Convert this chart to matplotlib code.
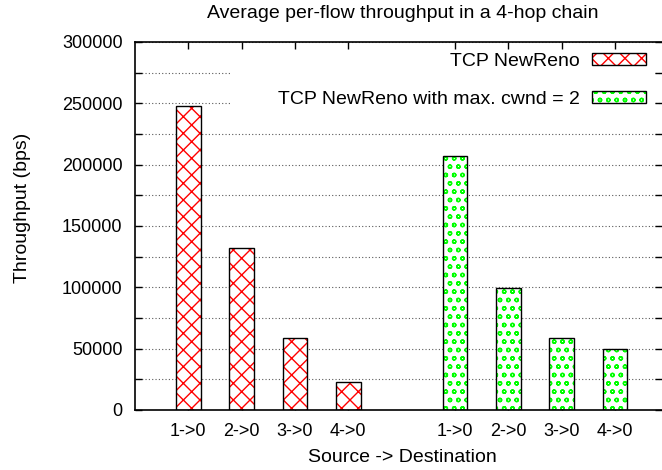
import matplotlib
matplotlib.use("Agg")
import matplotlib.pyplot as plt
from matplotlib.patches import Patch, Rectangle
from matplotlib.legend_handler import HandlerTuple
from matplotlib.ticker import MultipleLocator

plt.rcParams['font.family'] = ['Liberation Sans', 'DejaVu Sans']
plt.rcParams['hatch.linewidth'] = 1.0

title = "Average per-flow throughput in a 4-hop chain"
categories = ["1->0", "2->0", "3->0", "4->0"]
series_names = ["TCP NewReno", "TCP NewReno with max. cwnd = 2"]
newreno = [248000, 132000, 59000, 23000]
newreno_cwnd2 = [207000, 99500, 59000, 50000]
xlabel = "Source -> Destination"
ylabel = "Throughput (bps)"

fig = plt.figure(figsize=(6.62, 4.70), dpi=100)
ax = fig.add_axes([135/662, 60/470, 527/662, 368/470])

pos1 = [0, 1, 2, 3]
pos2 = [5, 6, 7, 8]
width = 0.46
fs = 13
fs2 = 14
red = '#ff0000'
green = '#00ff00'

ax.bar(pos1, newreno, width, facecolor='white', edgecolor=red, hatch='xx', linewidth=0, zorder=2)
ax.bar(pos1, newreno, width, fill=False, edgecolor='black', linewidth=1.0, zorder=3)
ax.bar(pos2, newreno_cwnd2, width, facecolor='white', edgecolor=green, hatch='oo', linewidth=0, zorder=2)
ax.bar(pos2, newreno_cwnd2, width, fill=False, edgecolor='black', linewidth=1.0, zorder=3)

ax.set_xlim(-1, 8 + 47/53.3)
ax.set_ylim(0, 300000)
ax.set_xticks(pos1 + pos2)
ax.set_xticklabels(categories + categories, fontsize=fs)
ax.yaxis.set_major_locator(MultipleLocator(50000))
ax.yaxis.set_minor_locator(MultipleLocator(25000))
ax.tick_params(axis='y', which='both', direction='in', left=True, right=True, length=5, width=1, labelsize=fs, pad=9)
ax.tick_params(axis='x', which='both', direction='in', top=True, bottom=True, length=5, width=1, labelsize=fs, pad=9)
ax.grid(True, axis='y', which='both', linestyle=(0, (1, 2)), color='0.35', linewidth=0.8)
ax.set_axisbelow(True)
for s in ['left', 'bottom', 'top']:
    ax.spines[s].set_linewidth(1.2)
ax.spines['right'].set_visible(False)

ax.set_ylabel(ylabel, fontsize=fs2)
ax.yaxis.set_label_coords((23 - 135) / 527, (410 - 208) / 368)
ax.yaxis.label.set_verticalalignment('center')
ax.set_xlabel(xlabel, fontsize=fs2)
ax.xaxis.set_label_coords((402 - 135) / 527, (410 - 458) / 368)
ax.xaxis.label.set_verticalalignment('center')

fig.text(402.5/662, 1 - 13/470, title, fontsize=fs2, ha='center', va='center')

# white key background
ax.add_patch(Rectangle((0.184, 0.79), 0.985 - 0.184, 0.978 - 0.79, transform=ax.transAxes,
                       facecolor='white', edgecolor='none', zorder=1.5))

hp1 = Patch(facecolor='white', edgecolor=red, hatch='xx', linewidth=0)
op1 = Patch(facecolor='none', edgecolor='black', linewidth=1.0)
hp2 = Patch(facecolor='white', edgecolor=green, hatch='oo', linewidth=0)
op2 = Patch(facecolor='none', edgecolor='black', linewidth=1.0)
leg = ax.legend([(hp1, op1), (hp2, op2)], series_names,
                handler_map={tuple: HandlerTuple(ndivide=1)},
                loc='upper right', bbox_to_anchor=((646 - 135) / 527, (410 - 53) / 368),
                bbox_transform=ax.transAxes,
                frameon=False, markerfirst=False, fontsize=fs2, borderpad=0, borderaxespad=0,
                handlelength=2.78, handleheight=0.52, handletextpad=0.62, labelspacing=1.08)
leg.set_zorder(4)

fig.savefig("out.png", dpi=100)
